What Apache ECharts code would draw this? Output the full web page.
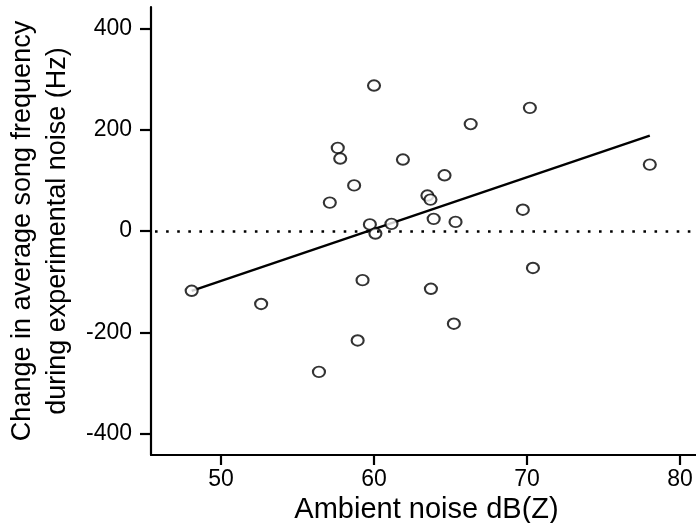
<!DOCTYPE html>
<html>
<head>
<meta charset="utf-8">
<script src="https://cdn.jsdelivr.net/npm/echarts@6/dist/echarts.min.js"></script>
<style>
html,body{margin:0;padding:0;background:#fff;}
#chart{width:696px;height:523px;}
</style>
</head>
<body>
<div id="chart"></div>
<script>
// Ambient noise dB(Z)
const noiseX = [60.0, 70.19, 66.32, 57.63, 57.79, 61.89, 78.03, 64.61, 58.70, 57.11,
                63.49, 63.69, 69.73, 63.90, 65.33, 59.73, 61.14, 60.09,
                70.39, 59.25, 48.08, 63.72, 52.62, 65.22, 58.93, 56.40];
// Change in average song frequency (Hz)
const freqChange = [287, 243, 211, 164, 143, 141, 131, 110, 90, 56,
                    70, 62, 42, 24, 18, 13, 14, -5,
                    -73, -97, -118, -114, -144, -183, -216, -278];
// Regression line endpoints
const fitX = [48.08, 78.03];
const fitY = [-118, 188];
const xTicks = [50, 60, 70, 80];
const yTicks = [-400, -200, 0, 200, 400];

const points = noiseX.map((x, i) => [x, freqChange[i]]);
const fitLine = fitX.map((x, i) => [x, fitY[i]]);

const font = '"Liberation Sans", Arial, Helvetica, sans-serif';
const chart = echarts.init(document.getElementById('chart'), null, {renderer: 'canvas'});
chart.setOption({
  animation: false,
  backgroundColor: '#fff',
  grid: {left: 151, top: 7, right: 0, bottom: 68, containLabel: false, outerBoundsMode: 'none'},
  xAxis: {
    type: 'value', min: 45.42, max: 81.05,
    name: 'Ambient noise dB(Z)', nameLocation: 'middle', nameGap: 36,
    nameTextStyle: {fontFamily: font, fontSize: 29, color: '#000', padding: [0, 0, 0, 6]},
    axisLine: {show: true, onZero: false, lineStyle: {color: '#000', width: 2.2}},
    axisTick: {show: true, length: 10, lineStyle: {color: '#000', width: 2.2}, customValues: xTicks},
    axisLabel: {fontFamily: font, fontSize: 23, color: '#000', margin: 13, customValues: xTicks},
    splitLine: {show: false}
  },
  yAxis: {
    type: 'value', min: -442, max: 442,
    name: 'Change in average song frequency\nduring experimental noise (Hz)',
    nameLocation: 'middle', nameRotate: 90, nameGap: 68,
    nameTextStyle: {fontFamily: font, fontSize: 27, color: '#000', lineHeight: 35, align: 'center'},
    axisLine: {show: true, onZero: false, lineStyle: {color: '#000', width: 2.2}},
    axisTick: {show: true, length: 11, lineStyle: {color: '#000', width: 2.2}, customValues: yTicks},
    axisLabel: {fontFamily: font, fontSize: 23, color: '#000', margin: 19, customValues: yTicks},
    splitLine: {show: false}
  },
  series: [
    {
      type: 'line', data: fitLine, symbol: 'none', z: 2,
      lineStyle: {color: '#000', width: 2.4},
      markLine: {
        silent: true, symbol: 'none', label: {show: false},
        lineStyle: {color: '#000', width: 2.6, type: [2.6, 8.5], dashOffset: -4},
        data: [{yAxis: 0}]
      }
    },
    {
      type: 'scatter', data: points, symbol: 'circle', symbolSize: [12, 10.5], z: 3,
      itemStyle: {color: '#fff', borderColor: '#000', borderWidth: 2}
    }
  ]
});
</script>
</body>
</html>
